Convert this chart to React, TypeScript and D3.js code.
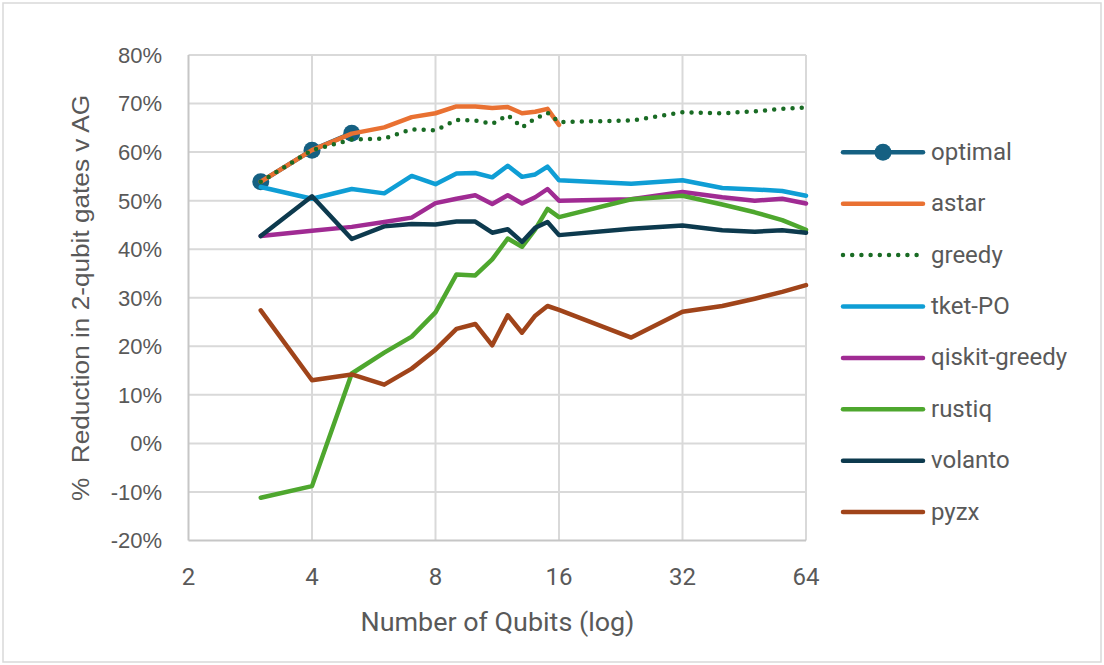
import React from "react";
import * as d3 from "d3";

const qubits = [3, 4, 5, 6, 7, 8, 9, 10, 11, 12, 13, 14, 15, 16, 24, 32, 40, 48, 56, 64];
const optimal = [53.9, 60.4, 63.9];
const astar = [53.9, 60.4, 63.8, 65.1, 67.2, 68.0, 69.4, 69.4, 69.1, 69.3, 68.0, 68.3, 68.9, 65.6];
const greedy = [53.9, 60.4, 62.6, 62.8, 64.7, 64.5, 66.6, 66.5, 65.8, 67.6, 65.1, 66.9, 68.1, 66.2, 66.5, 68.2, 68.0, 68.4, 68.9, 69.2];
const tketPO = [52.8, 50.4, 52.4, 51.5, 55.1, 53.4, 55.6, 55.7, 54.8, 57.2, 54.9, 55.4, 57.0, 54.2, 53.5, 54.2, 52.6, 52.3, 52.0, 51.0];
const qiskitGreedy = [42.7, 43.8, 44.6, 45.6, 46.5, 49.5, 50.4, 51.1, 49.3, 51.1, 49.4, 50.7, 52.4, 50.0, 50.3, 51.8, 50.7, 50.0, 50.4, 49.4];
const rustiq = [-11.2, -8.8, 14.4, 18.7, 22.0, 27.0, 34.8, 34.6, 37.9, 42.2, 40.5, 44.1, 48.3, 46.6, 50.3, 51.0, 49.2, 47.6, 46.0, 44.0];
const volanto = [42.7, 50.9, 42.1, 44.7, 45.2, 45.1, 45.7, 45.7, 43.4, 44.1, 41.5, 44.4, 45.6, 42.9, 44.2, 44.9, 43.9, 43.6, 43.9, 43.4];
const pyzx = [27.4, 13.0, 14.2, 12.1, 15.4, 19.3, 23.6, 24.6, 20.2, 26.4, 22.8, 26.3, 28.3, 27.5, 21.8, 27.1, 28.3, 29.8, 31.2, 32.6];

const xTicks = [2, 4, 8, 16, 32, 64];
const yTicks = [-20, -10, 0, 10, 20, 30, 40, 50, 60, 70, 80];

const seriesNames = ["optimal", "astar", "greedy", "tket-PO", "qiskit-greedy", "rustiq", "volanto", "pyzx"];
const seriesValues = [optimal, astar, greedy, tketPO, qiskitGreedy, rustiq, volanto, pyzx];
const seriesColors = ["#156082", "#E97132", "#196B24", "#0F9ED5", "#A02B93", "#4EA72E", "#0D3A4E", "#A0441A"];

const W = 1104;
const H = 665;

export default function App() {
  const x = d3.scaleLog().base(2).domain([2, 64]).range([188.5, 806]);
  const y = d3.scaleLinear().domain([-20, 80]).range([540.5, 55]);
  const line = d3
    .line<[number, number]>()
    .x((d) => x(d[0]))
    .y((d) => y(d[1]));

  const textColor = "#595959";
  const lw = 4.5;

  return (
    <div style={{ position: "absolute", left: 0, top: 0 }}>
      <svg width={W} height={H} style={{ display: "block", background: "#fff" }}>
        <rect x={3} y={3} width={W - 6} height={H - 6} fill="#fff" stroke="#D9D9D9" strokeWidth={1.5} />
        {/* horizontal gridlines */}
        {yTicks.filter((t) => t > -20).map((t) => (
          <line key={"gy" + t} x1={x(2)} x2={x(64)} y1={y(t)} y2={y(t)} stroke="#D9D9D9" strokeWidth={2} />
        ))}
        {/* vertical gridlines */}
        {xTicks.filter((t) => t > 2).map((t) => (
          <line key={"gx" + t} x1={x(t)} x2={x(t)} y1={y(80)} y2={y(-20)} stroke="#D9D9D9" strokeWidth={2} />
        ))}
        {/* axes */}
        <line x1={x(2)} x2={x(2)} y1={y(80)} y2={y(-20)} stroke="#C6C6C6" strokeWidth={2} />
        <line x1={x(2)} x2={x(64)} y1={y(-20)} y2={y(-20)} stroke="#C6C6C6" strokeWidth={2} />
        {/* y tick labels */}
        {yTicks.map((t) => (
          <text key={"yl" + t} x={162} y={y(t)} dy="0.36em" textAnchor="end" fontFamily="'Liberation Sans', Arial, sans-serif" fontSize={22} fill={textColor}>
            {t + "%"}
          </text>
        ))}
        {/* x tick labels */}
        {xTicks.map((t) => (
          <text key={"xl" + t} x={x(t)} y={585} textAnchor="middle" fontFamily="Roboto, sans-serif" fontSize={24} fill={textColor}>
            {String(t)}
          </text>
        ))}
        {/* axis titles */}
        <text x={497.5} y={631} textAnchor="middle" fontFamily="Roboto, sans-serif" fontSize={26} fill={textColor} textLength={274} lengthAdjust="spacingAndGlyphs">
          Number of Qubits (log)
        </text>
        <text transform="translate(89,298) rotate(-90)" textAnchor="middle" fontFamily="'Liberation Sans', Arial, sans-serif" fontSize={23} fill={textColor} textLength={406} lengthAdjust="spacingAndGlyphs">
          {"%\u00A0 Reduction in 2-qubit gates v AG"}
        </text>
        {/* series */}
        {seriesValues.map((vals, i) => {
          const pts: [number, number][] = vals.map((v, j) => [qubits[j], v]);
          const dotted = seriesNames[i] === "greedy";
          return (
            <g key={"s" + i}>
              <path
                d={line(pts) || ""}
                fill="none"
                stroke={seriesColors[i]}
                strokeWidth={lw}
                strokeLinejoin="round"
                strokeLinecap="round"
                strokeDasharray={dotted ? "0 9.2" : undefined}
              />
              {seriesNames[i] === "optimal" &&
                pts.map((p, k) => <circle key={k} cx={x(p[0])} cy={y(p[1])} r={8.5} fill={seriesColors[i]} />)}
            </g>
          );
        })}
        {/* legend */}
        {seriesNames.map((name, i) => {
          const ly = 152.3 + i * 51.4;
          const dotted = name === "greedy";
          return (
            <g key={"lg" + i}>
              <line
                x1={843}
                x2={923}
                y1={ly}
                y2={ly}
                stroke={seriesColors[i]}
                strokeWidth={lw}
                strokeLinecap="round"
                strokeDasharray={dotted ? "0 9.2" : undefined}
              />
              {name === "optimal" && <circle cx={883} cy={ly} r={8.5} fill={seriesColors[i]} />}
              <text x={931} y={ly + 7.5} fontFamily="Roboto, sans-serif" fontSize={24} fill={textColor}>
                {name}
              </text>
            </g>
          );
        })}
      </svg>
    </div>
  );
}
